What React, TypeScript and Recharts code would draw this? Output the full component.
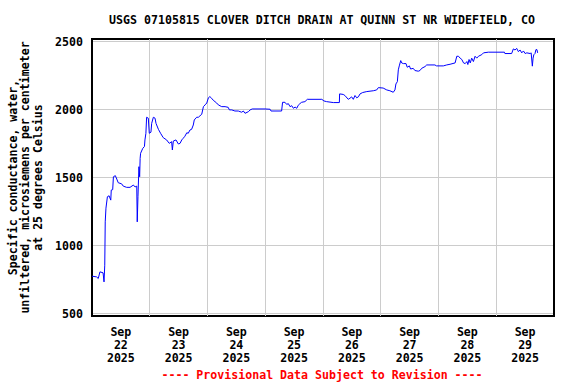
import {
  LineChart,
  Line,
  XAxis,
  YAxis,
  CartesianGrid,
  ReferenceLine,
  ReferenceArea,
} from "recharts";

// hours since Sep 22 00:00 and specific conductance (uS/cm @ 25C)
const HOURS = [
  0, 1.9, 2.6, 3.3, 4.6, 5.0, 5.3, 5.5, 5.8, 6.4, 7.1, 7.8, 8.0, 8.6, 8.9, 9.7,
  10.3, 10.9, 12.3, 13.0, 14.4, 15.8, 17.2, 17.9, 18.6, 18.8, 19.1, 19.5, 19.8,
  20.0, 20.2, 21.1, 21.8, 22.0, 22.4, 22.7, 23.4, 23.8, 24.5, 24.8, 25.5, 26.2,
  26.6, 27.6, 28.5, 29.6, 31.0, 32.1, 33.1, 33.4, 33.8, 34.9, 35.9, 36.6, 37.3,
  37.9, 38.6, 39.4, 40.0, 40.7, 41.4, 42.1, 42.5, 43.5, 44.2, 45.6, 46.3, 47.0,
  47.7, 48.4, 49.0, 49.7, 50.4, 51.1, 51.8, 52.5, 53.9, 55.3, 56.6, 57.1, 58.1,
  59.4, 60.8, 62.2, 62.9, 63.6, 65.0, 65.7, 66.6, 71.9, 74.0, 74.4, 78.8, 79.2,
  80.2, 80.9, 81.6, 82.3, 83.0, 83.7, 84.4, 85.1, 85.7, 86.4, 87.1, 88.5, 89.5,
  95.5, 96.4, 97.5, 100.3, 102.8, 102.9, 104.4, 105.1, 106.5, 107.2, 107.9,
  108.6, 109.3, 110.0, 110.7, 111.4, 112.5, 114.2, 116.9, 118.3, 119.0, 121.0,
  122.5, 123.8, 125.2, 125.9, 126.3, 126.9, 127.3, 127.7, 128.3, 128.7, 129.4,
  130.5, 131.0, 131.9, 132.4, 133.5, 134.2, 135.6, 136.3, 137.0, 138.4, 139.1,
  142.5, 143.2, 146.0, 147.4, 148.8, 150.9, 151.6, 152.3, 153.0, 153.7, 154.4,
  155.1, 155.8, 156.2, 156.7, 157.2, 157.8, 158.5, 159.2, 159.9, 160.6, 162.0,
  162.7, 164.7, 171.4, 171.6, 174.4, 175.1, 175.8, 176.5, 177.2, 177.9, 178.6,
  179.3, 180.0, 180.7, 182.1, 182.5, 183.0, 183.3, 183.6, 184.1, 184.5, 184.9,
  185.2,
];

const COND = [
  775, 770, 758, 807, 800, 733, 856, 1175, 1276, 1360, 1367, 1335, 1409, 1412,
  1507, 1515, 1490, 1463, 1455, 1438, 1429, 1429, 1446, 1432, 1438, 1175, 1360,
  1581, 1507, 1642, 1680, 1716, 1730, 1778, 1827, 1945, 1938, 1827, 1835, 1900,
  1945, 1938, 1900, 1856, 1827, 1795, 1778, 1753, 1765, 1704, 1770, 1778, 1748,
  1753, 1778, 1790, 1805, 1831, 1827, 1851, 1856, 1888, 1925, 1945, 1945, 1967,
  2023, 2036, 2050, 2089, 2097, 2085, 2070, 2060, 2050, 2036, 2023, 2023, 2018,
  1999, 1999, 1991, 1991, 1982, 1991, 1974, 1986, 1999, 2006, 2006, 2004, 1991,
  1991, 2055, 2055, 2040, 2045, 2023, 2030, 2011, 2020, 2011, 2033, 2045, 2055,
  2060, 2077, 2077, 2065, 2060, 2053, 2053, 2117, 2113, 2105, 2077, 2085, 2095,
  2077, 2105, 2088, 2095, 2117, 2127, 2134, 2140, 2146, 2163, 2160, 2146, 2140,
  2129, 2146, 2190, 2207, 2294, 2323, 2362, 2345, 2340, 2340, 2313, 2323, 2300,
  2305, 2289, 2284, 2289, 2305, 2318, 2330, 2330, 2323, 2323, 2330, 2335, 2345,
  2394, 2394, 2380, 2370, 2345, 2340, 2355, 2333, 2370, 2345, 2380, 2355, 2394,
  2380, 2394, 2406, 2419, 2424, 2424, 2414, 2414, 2448, 2440, 2452, 2428, 2440,
  2419, 2433, 2414, 2419, 2414, 2419, 2321, 2380, 2405, 2414, 2443, 2443, 2419,
];

const DAYS = ["22", "23", "24", "25", "26", "27", "28", "29"];
const MONTH = "Sep";
const YEAR = "2025";
const Y_TICKS = [500, 1000, 1500, 2000, 2500];
const Y_DOMAIN = [482, 2521];

const TITLE = "USGS 07105815 CLOVER DITCH DRAIN AT QUINN ST NR WIDEFIELD, CO";
const FOOTER = "---- Provisional Data Subject to Revision ----";
const Y_LABEL = [
  "Specific conductance, water,",
  "unfiltered, microsiemens per centimeter",
  "at 25 degrees Celsius",
];

const FONT = "'DejaVu Sans Mono', 'Liberation Mono', monospace";
const FS = 11.6;

const data = HOURS.map((h, i) => ({ h, v: COND[i] }));
const dayTicks = DAYS.map((_, i) => i * 24 + 12);
const dayLines = DAYS.slice(1).map((_, i) => (i + 1) * 24);

const DayTick = (props: any) => {
  const { x, y, payload } = props;
  const i = dayTicks.indexOf(payload.value);
  return (
    <text x={x} y={y} textAnchor="middle" fontFamily={FONT} fontSize={FS}
      fontWeight="bold" fill="#000">
      <tspan x={x} dy={17.5}>{MONTH}</tspan>
      <tspan x={x} dy={13.4}>{DAYS[i]}</tspan>
      <tspan x={x} dy={13.4}>{YEAR}</tspan>
    </text>
  );
};

const ValueTick = (props: any) => {
  const { y, payload } = props;
  return (
    <text x={83} y={y} dy={4} textAnchor="end" fontFamily={FONT} fontSize={FS}
      fontWeight="bold" fill="#000">
      {payload.value}
    </text>
  );
};

export default function App() {
  return (
    <div style={{ position: "absolute", left: 0, top: 0, width: 576, height: 384, background: "#fff" }}>
      <LineChart width={576} height={384} data={data}
        margin={{ top: 39, right: 22, left: 0, bottom: 0 }}>
        <CartesianGrid vertical={false} stroke="#cccccc" shapeRendering="crispEdges" />
        {dayLines.map((d) => (
          <ReferenceLine key={d} x={d} stroke="#cccccc" shapeRendering="crispEdges" />
        ))}
        <XAxis dataKey="h" type="number" domain={[0, 192]} ticks={dayTicks}
          tick={<DayTick />} tickLine={false} tickSize={0} axisLine={false}
          height={68} interval={0} />
        <YAxis type="number" domain={Y_DOMAIN} ticks={Y_TICKS} allowDataOverflow
          tick={<ValueTick />} tickLine={false} axisLine={false} width={92} interval={0} />
        <ReferenceArea x1={0} x2={192} y1={Y_DOMAIN[0]} y2={Y_DOMAIN[1]}
          fill="none" stroke="#000" strokeWidth={1.5} shapeRendering="crispEdges" />
        <Line dataKey="v" type="linear" stroke="#0000ff" strokeWidth={1}
          dot={false} isAnimationActive={false} />
      </LineChart>
      <svg width={576} height={384} style={{ position: "absolute", left: 0, top: 0, pointerEvents: "none" }}>
        <text x={322} y={23.5} textAnchor="middle" fontFamily={FONT} fontSize={FS}
          fontWeight="bold" fill="#000">{TITLE}</text>
        <text x={322} y={379} textAnchor="middle" fontFamily={FONT} fontSize={FS}
          fontWeight="bold" fill="#ff0000">{FOOTER}</text>
        {Y_LABEL.map((t, i) => (
          <text key={i} x={0} y={0} transform={`translate(${17 + i * 12.3},177.5) rotate(-90)`}
            textAnchor="middle" fontFamily={FONT} fontSize={FS} fontWeight="bold" fill="#000">
            {t}
          </text>
        ))}
      </svg>
    </div>
  );
}
